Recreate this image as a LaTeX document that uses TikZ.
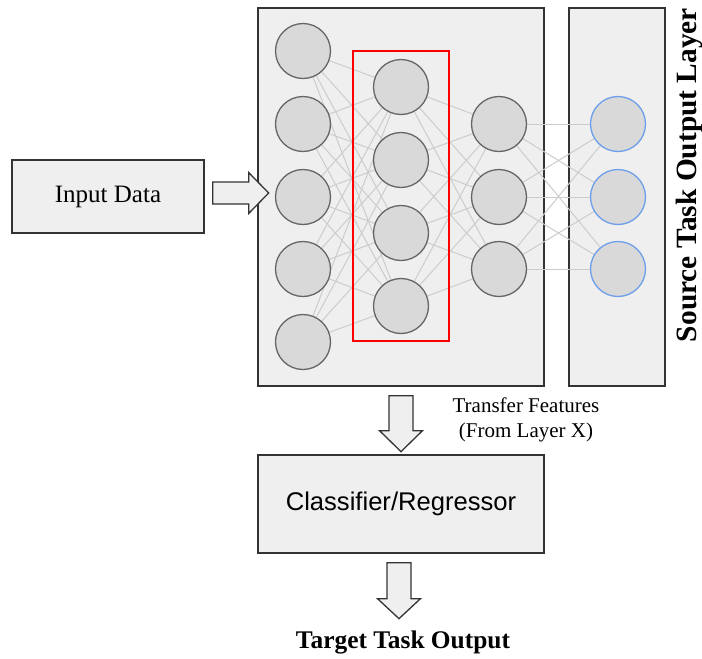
\documentclass[tikz,border=0pt]{standalone}
\usepackage{fontspec}
\setmainfont{Liberation Serif}
\newfontfamily\arialfont{Liberation Sans}
\usetikzlibrary{calc}

\definecolor{panel}{HTML}{EFEFEF}
\definecolor{nodefill}{HTML}{D9D9D9}
\definecolor{nodeline}{HTML}{666666}
\definecolor{edge}{HTML}{CCCCCC}
\definecolor{outline}{HTML}{333333}
\definecolor{outblue}{HTML}{6D9EEB}
\definecolor{featred}{HTML}{FF0000}

\begin{document}
\begin{tikzpicture}[x=1pt,y=-1pt,
  panelbox/.style={draw=outline, line width=1.3pt, fill=panel, rectangle, inner sep=0pt},
  neuron/.style={circle, draw=nodeline, line width=1.3pt, fill=nodefill, minimum size=55pt, inner sep=0pt},
  outneuron/.style={neuron, draw=outblue},
  link/.style={draw=edge, line width=1pt},
  blockarrow/.style={draw=outline, line width=1.3pt, fill=panel, line join=miter},
  label/.style={inner sep=0pt, text=black}
  ]
\useasboundingbox (0,0) rectangle (702,659);

% panels
\node[panelbox, minimum width=286pt, minimum height=378pt] (net) at (401,197) {};
\node[panelbox, minimum width=96pt, minimum height=378pt] (outpanel) at (617,197) {};
\node[panelbox, minimum width=192pt, minimum height=73pt, font=\fontsize{25}{29}\selectfont] (in) at (108,196.5) {Input Data};
\node[panelbox, minimum width=286pt, minimum height=98pt, font=\arialfont\fontsize{25.6}{29}\selectfont] (clf) at (401,504) {Classifier/Regressor};

% neuron positions
\foreach \y [count=\i] in {51,124,197,269,342} \coordinate (a\i) at (303,\y);
\foreach \y [count=\i] in {87,160,233,306} \coordinate (b\i) at (401,\y);
\foreach \y [count=\i] in {124,197,269} \coordinate (c\i) at (499,\y);
\foreach \y [count=\i] in {124,197,269} \coordinate (d\i) at (618,\y);

% dense connections
\foreach \i in {1,...,5} \foreach \j in {1,...,4} \draw[link] (a\i) -- (b\j);
\foreach \i in {1,...,4} \foreach \j in {1,...,3} \draw[link] (b\i) -- (c\j);
\foreach \i in {1,...,3} \foreach \j in {1,...,3} \draw[link] (c\i) -- (d\j);

% transferred feature layer
\draw[featred, line width=1.3pt] (353,51) rectangle (449,341);

% neurons
\foreach \i in {1,...,5} \node[neuron] (na\i) at (a\i) {};
\foreach \i in {1,...,4} \node[neuron] (nb\i) at (b\i) {};
\foreach \i in {1,...,3} \node[neuron] (nc\i) at (c\i) {};
\foreach \i in {1,...,3} \node[outneuron] (nd\i) at (d\i) {};

% block arrows
\coordinate (h0) at ($(in.east)+(8,-3.5)$);
\draw[blockarrow] (h0) ++(0,-11) -- ++(36,0) -- ++(0,-9.5) -- ++(20,20.5) -- ++(-20,20.5) -- ++(0,-9.5) -- ++(-36,0) -- cycle;
\coordinate (v1) at ($(net.south)+(0,9)$);
\draw[blockarrow] (v1) ++(-12,0) -- ++(0,35) -- ++(-9.5,0) -- ++(21.5,21) -- ++(21.5,-21) -- ++(-9.5,0) -- ++(0,-35) -- cycle;
\coordinate (v2) at ($(clf.south)+(-2,9)$);
\draw[blockarrow] (v2) ++(-12,0) -- ++(0,36) -- ++(-9.5,0) -- ++(21.5,20) -- ++(21.5,-20) -- ++(-9.5,0) -- ++(0,-36) -- cycle;

% labels
\node[label, align=center, font=\fontsize{21}{25}\selectfont] (xfer) at (526,420) {Transfer Features\\(From Layer X)};
\node[label, font=\bfseries\fontsize{25.4}{30}\selectfont] (target) at (403,642) {Target Task Output};
\node[label, rotate=90, font=\bfseries\fontsize{29.4}{34}\selectfont] (srcout) at (689,175) {Source Task Output Layer};
\end{tikzpicture}
\end{document}
